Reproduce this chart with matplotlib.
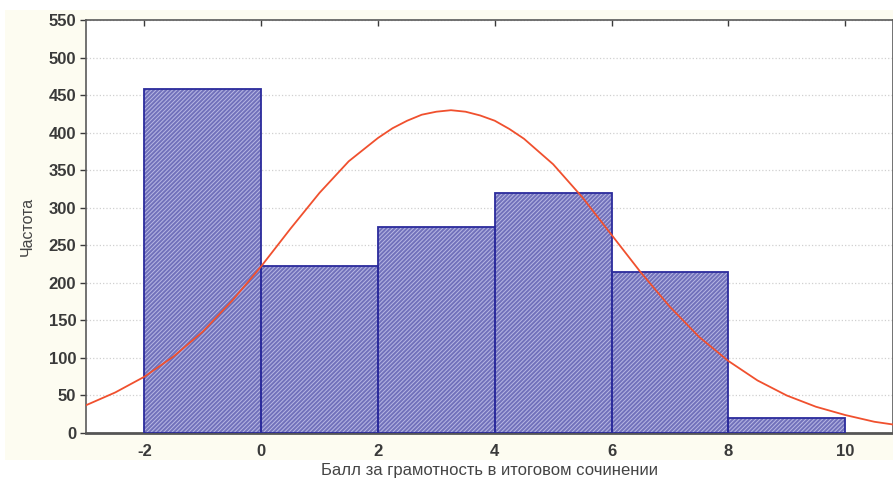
import numpy as np
import matplotlib
matplotlib.use("Agg")
import matplotlib.pyplot as plt
from matplotlib.patches import Rectangle

# histogram bins (left edges, width 2) and counts
bin_left = [-2, 0, 2, 4, 6, 8]
bin_width = 2
counts = [458, 222, 274, 320, 215, 20]

# fitted normal curve
curve_x = [-3.0, -2.5, -2.0, -1.5, -1.0, -0.5, 0.0, 0.5, 1.0, 1.5, 2.0, 2.25, 2.5, 2.75, 3.0, 3.25,
           3.5, 3.75, 4.0, 4.25, 4.5, 5.0, 5.5, 6.0, 6.5, 7.0, 7.5, 8.0, 8.5, 9.0, 9.5, 10.0, 10.5, 10.85]
curve_y = [37, 54, 75, 102, 135, 176, 222, 272, 320, 362, 393, 406, 416, 424, 428, 430,
           428, 423, 416, 405, 392, 358, 314, 264, 214, 168, 128, 96, 70, 50, 35, 24, 15, 11]

xticks = [-2, 0, 2, 4, 6, 8, 10]
yticks = list(range(0, 551, 50))

plt.rcParams['font.family'] = ['Liberation Sans', 'DejaVu Sans']
plt.rcParams['axes.unicode_minus'] = False
plt.rcParams['hatch.linewidth'] = 0.7

fig = plt.figure(figsize=(8.93, 4.79), dpi=100, facecolor='white')
# cream panel behind the plot
fig.patches.append(Rectangle((0.006, 0.04), 0.994, 0.94, transform=fig.transFigure,
                             facecolor='#fdfcf1', edgecolor='none', zorder=-10))

ax = fig.add_axes([0.0963, 0.096, 0.9037, 0.862])
ax.set_facecolor('white')

# bars: fill, then hatch, then outline
ax.bar(bin_left, counts, width=bin_width, align='edge', color='#7171bb', edgecolor='none', zorder=2)
ax.bar(bin_left, counts, width=bin_width, align='edge', color='none', edgecolor='#b8b8e4',
       hatch='////////', linewidth=0, zorder=3)
ax.bar(bin_left, counts, width=bin_width, align='edge', color='none', edgecolor='#2b2b9c',
       linewidth=1.3, zorder=4)

ax.plot(curve_x, curve_y, color='#f0502e', linewidth=1.3, zorder=5)

ax.set_xlim(-3.0, 10.82)
ax.set_ylim(0, 550)
ax.set_xticks(xticks)
ax.set_yticks(yticks)
ax.grid(axis='y', color='#d0d0d0', linestyle=':', linewidth=0.9, zorder=0)
ax.set_axisbelow(True)

ax.tick_params(axis='both', labelsize=12, colors='#3a3a3a', length=4, width=1)
ax.tick_params(axis='x', top=True, direction='in', bottom=False, pad=8)
ax.tick_params(axis='y', direction='out', pad=3)
for lab in ax.get_xticklabels() + ax.get_yticklabels():
    lab.set_fontweight('bold')

for side in ['left', 'top', 'right']:
    ax.spines[side].set_color('#5a5a5a')
    ax.spines[side].set_linewidth(1.2)
ax.spines['bottom'].set_color('#555555')
ax.spines['bottom'].set_linewidth(2)

ax.set_xlabel('Балл за грамотность в итоговом сочинении', fontsize=12, color='#444444', labelpad=3)
ax.set_ylabel('Частота', fontsize=11.5, color='#444444', labelpad=10)

fig.savefig('out.png', dpi=100, facecolor=fig.get_facecolor())
